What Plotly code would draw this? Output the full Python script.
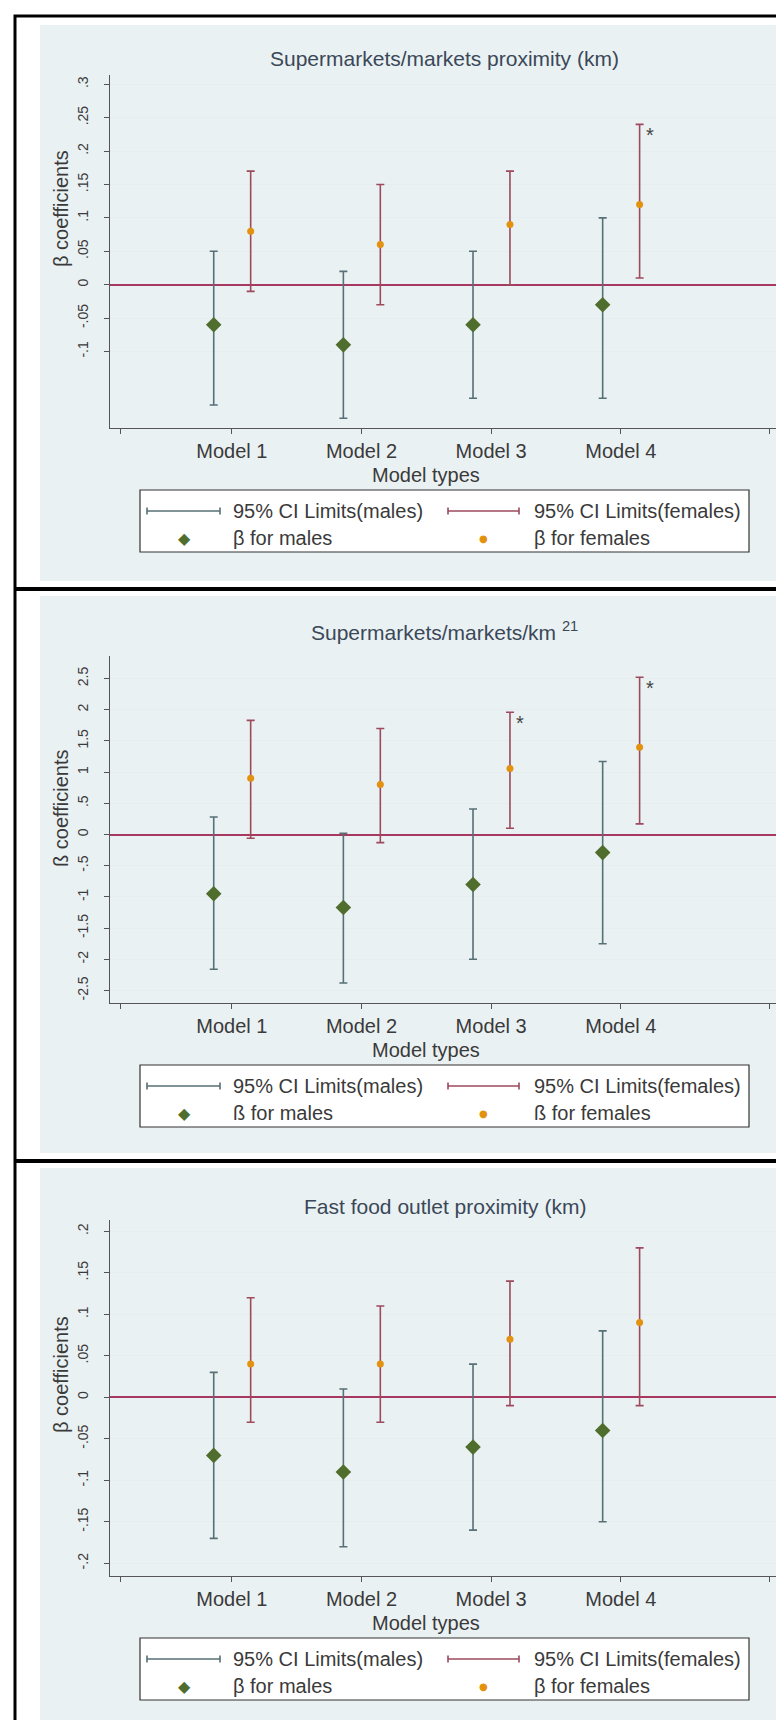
import plotly.graph_objects as go

# ---------------- data ----------------
models = ["Model 1", "Model 2", "Model 3", "Model 4"]

p1_title = "Supermarkets/markets proximity (km)"
p1_male_beta = [-0.06, -0.09, -0.06, -0.03]
p1_male_lo = [-0.18, -0.20, -0.17, -0.17]
p1_male_hi = [0.05, 0.02, 0.05, 0.10]
p1_fem_beta = [0.08, 0.06, 0.09, 0.12]
p1_fem_lo = [-0.01, -0.03, 0.00, 0.01]
p1_fem_hi = [0.17, 0.15, 0.17, 0.24]
p1_fem_sig = [False, False, False, True]
p1_tickvals = [-0.1, -0.05, 0, 0.05, 0.1, 0.15, 0.2, 0.25, 0.3]
p1_ticktext = ["-.1", "-.05", "0", ".05", ".1", ".15", ".2", ".25", ".3"]

p2_title = "Supermarkets/markets/km <sup>21</sup>"
p2_male_beta = [-0.95, -1.17, -0.80, -0.29]
p2_male_lo = [-2.16, -2.38, -2.00, -1.75]
p2_male_hi = [0.28, 0.02, 0.41, 1.17]
p2_fem_beta = [0.90, 0.80, 1.06, 1.40]
p2_fem_lo = [-0.06, -0.13, 0.10, 0.17]
p2_fem_hi = [1.83, 1.70, 1.96, 2.52]
p2_fem_sig = [False, False, True, True]
p2_tickvals = [-2.5, -2, -1.5, -1, -0.5, 0, 0.5, 1, 1.5, 2, 2.5]
p2_ticktext = ["-2.5", "-2", "-1.5", "-1", "-.5", "0", ".5", "1", "1.5", "2", "2.5"]

p3_title = "Fast food outlet proximity (km)"
p3_male_beta = [-0.07, -0.09, -0.06, -0.04]
p3_male_lo = [-0.17, -0.18, -0.16, -0.15]
p3_male_hi = [0.03, 0.01, 0.04, 0.08]
p3_fem_beta = [0.04, 0.04, 0.07, 0.09]
p3_fem_lo = [-0.03, -0.03, -0.01, -0.01]
p3_fem_hi = [0.12, 0.11, 0.14, 0.18]
p3_fem_sig = [False, False, False, False]
p3_tickvals = [-0.2, -0.15, -0.1, -0.05, 0, 0.05, 0.1, 0.15, 0.2]
p3_ticktext = ["-.2", "-.15", "-.1", "-.05", "0", ".05", ".1", ".15", ".2"]

legend_ci_m = "95% CI Limits(males)"
legend_ci_f = "95% CI Limits(females)"
x_title = "Model types"

# ---------------- styling / layout ----------------
W, H = 784, 1720
FONT = "Liberation Sans, Arial, sans-serif"
C_GRAPH = "#EAF1F3"
C_GRID = "#E6EDEF"
C_AXIS = "#555555"
C_MCI = "#567076"
C_FCI = "#9C4A5C"
C_MPT = "#4F6E2D"
C_FPT = "#E3920F"
C_ZERO = "#A8385F"
C_TITLE = "#3A4858"
C_TEXT = "#3A3A3A"

def px(x):
    return x / W

def py(y):
    return 1 - y / H

panels = [
    dict(title=p1_title, mb=p1_male_beta, ml=p1_male_lo, mh=p1_male_hi,
         fb=p1_fem_beta, fl=p1_fem_lo, fh=p1_fem_hi, sig=p1_fem_sig,
         tv=p1_tickvals, tt=p1_ticktext, rng=[-0.2145, 0.3139],
         top=67, bot=420, gtop=17, gbot=573, ty=50, aty=201, beta="β"),
    dict(title=p2_title, mb=p2_male_beta, ml=p2_male_lo, mh=p2_male_hi,
         fb=p2_fem_beta, fl=p2_fem_lo, fh=p2_fem_hi, sig=p2_fem_sig,
         tv=p2_tickvals, tt=p2_ticktext, rng=[-2.70, 2.861],
         top=648, bot=995, gtop=588, gbot=1145, ty=623, aty=801, beta="ß"),
    dict(title=p3_title, mb=p3_male_beta, ml=p3_male_lo, mh=p3_male_hi,
         fb=p3_fem_beta, fl=p3_fem_lo, fh=p3_fem_hi, sig=p3_fem_sig,
         tv=p3_tickvals, tt=p3_ticktext, rng=[-0.2153, 0.2136],
         top=1212, bot=1568, gtop=1160, gbot=1717, ty=1198, aty=1367, beta="β"),
]

PL, PR = 102, 771
M_OFF, F_OFF = -0.14, 0.145
XRANGE = [0.06, 5.22]
XEND_TICKS = [0.14, 5.15]

fig = go.Figure()
shapes = []
annotations = []

# white page, black frame, gray graph regions
for p in panels:
    shapes.append(dict(type="rect", xref="paper", yref="paper", layer="below",
                       x0=px(32), x1=px(777), y0=py(p["gbot"]), y1=py(p["gtop"]),
                       fillcolor=C_GRAPH, line=dict(width=0)))
shapes.append(dict(type="rect", xref="paper", yref="paper",
                   x0=px(7), x1=px(781), y0=py(1718), y1=py(8),
                   line=dict(color="black", width=3), fillcolor="rgba(0,0,0,0)"))
for ysep in (581, 1153):
    shapes.append(dict(type="line", xref="paper", yref="paper",
                       x0=px(7), x1=px(781), y0=py(ysep), y1=py(ysep),
                       line=dict(color="black", width=4)))

for k, p in enumerate(panels):
    sfx = "" if k == 0 else str(k + 1)
    xa, ya = "x" + sfx, "y" + sfx
    xm = [i + 1 + M_OFF for i in range(len(models))]
    xf = [i + 1 + F_OFF for i in range(len(models))]

    fig.add_trace(go.Scatter(
        x=xm, y=p["mb"], mode="markers", xaxis=xa, yaxis=ya, showlegend=False,
        marker=dict(symbol="diamond", size=12, color=C_MPT),
        error_y=dict(type="data", symmetric=False,
                     array=[h - b for h, b in zip(p["mh"], p["mb"])],
                     arrayminus=[b - l for b, l in zip(p["mb"], p["ml"])],
                     color=C_MCI, thickness=1.6, width=4)))
    fig.add_trace(go.Scatter(
        x=xf, y=p["fb"], mode="markers", xaxis=xa, yaxis=ya, showlegend=False,
        marker=dict(symbol="circle", size=7, color=C_FPT),
        error_y=dict(type="data", symmetric=False,
                     array=[h - b for h, b in zip(p["fh"], p["fb"])],
                     arrayminus=[b - l for b, l in zip(p["fb"], p["fl"])],
                     color=C_FCI, thickness=1.6, width=4)))

    # significance asterisks
    for i, s in enumerate(p["sig"]):
        if s:
            annotations.append(dict(x=xf[i], y=p["fh"][i], xref=xa, yref=ya,
                                    text="*", showarrow=False, xshift=10, yshift=-11,
                                    font=dict(family=FONT, size=20, color="#444")))

    xkey = "xaxis" + sfx
    ykey = "yaxis" + sfx
    fig.update_layout({
        xkey: dict(domain=[px(PL), px(PR)], range=XRANGE, anchor=ya,
                   tickmode="array", tickvals=[1, 2, 3, 4], ticktext=models,
                   minor=dict(tickvals=XEND_TICKS, ticks="outside", ticklen=5,
                              tickcolor=C_AXIS, showgrid=False),
                   showgrid=False, zeroline=False, showline=True,
                   linecolor=C_AXIS, linewidth=1.2, ticks="outside", ticklen=5,
                   tickcolor=C_AXIS, ticklabelstandoff=0,
                   tickfont=dict(family=FONT, size=20, color=C_TEXT), fixedrange=True),
        ykey: dict(domain=[py(p["bot"]), py(p["top"])], range=p["rng"], anchor=xa,
                   tickmode="array", tickvals=p["tv"], ticktext=p["tt"],
                   tickangle=-90, showgrid=True, gridcolor=C_GRID, gridwidth=1,
                   zeroline=True, zerolinecolor=C_ZERO, zerolinewidth=1.5,
                   showline=True, linecolor=C_AXIS, linewidth=1.2,
                   ticks="outside", ticklen=5, tickcolor=C_AXIS, ticklabelstandoff=10,
                   tickfont=dict(family=FONT, size=14, color=C_TEXT), fixedrange=True),
    })

    # title
    annotations.append(dict(x=px((PL + PR) / 2), y=py(p["ty"]), xref="paper", yref="paper",
                            text=p["title"], showarrow=False, xanchor="center", yanchor="middle",
                            font=dict(family=FONT, size=21, color=C_TITLE)))
    # y-axis title
    annotations.append(dict(x=px(53), y=py(p["aty"]), xref="paper", yref="paper",
                            text=p["beta"] + " coefficients", showarrow=False, textangle=-90,
                            xanchor="center", yanchor="middle",
                            font=dict(family=FONT, size=20, color=C_TEXT)))
    # x-axis title
    b = p["bot"]
    annotations.append(dict(x=px(418), y=py(b + 47), xref="paper", yref="paper",
                            text=x_title, showarrow=False, xanchor="center", yanchor="middle",
                            font=dict(family=FONT, size=20, color=C_TEXT)))

    # legend box
    lt, lb = b + 62, b + 124
    shapes.append(dict(type="rect", xref="paper", yref="paper",
                       x0=px(132), x1=px(741), y0=py(lb), y1=py(lt),
                       fillcolor="white", line=dict(color="#333333", width=1.2)))
    r1, r2 = b + 83, b + 110
    for (x0, x1, col) in ((139, 212, C_MCI), (440, 511, C_FCI)):
        shapes.append(dict(type="line", xref="paper", yref="paper",
                           x0=px(x0), x1=px(x1), y0=py(r1), y1=py(r1),
                           line=dict(color=col, width=1.6)))
        for xc in (x0, x1):
            shapes.append(dict(type="line", xref="paper", yref="paper",
                               x0=px(xc), x1=px(xc), y0=py(r1 - 3.5), y1=py(r1 + 3.5),
                               line=dict(color=col, width=1.6)))
    for (xt, txt, yy) in ((223, legend_ci_m, r1), (524, legend_ci_f, r1),
                          (223, p["beta"] + " for males", r2),
                          (524, p["beta"] + " for females", r2)):
        annotations.append(dict(x=px(xt), y=py(yy), xref="paper", yref="paper",
                                text=txt, showarrow=False, xanchor="left", yanchor="middle",
                                font=dict(family=FONT, size=20, color=C_TEXT)))
    # legend markers
    annotations.append(dict(x=px(176), y=py(r2), xref="paper", yref="paper",
                            text="◆", showarrow=False,
                            xanchor="center", yanchor="middle",
                            font=dict(family="DejaVu Sans", size=16, color=C_MPT)))
    annotations.append(dict(x=px(476), y=py(r2), xref="paper", yref="paper",
                            text="●", showarrow=False,
                            xanchor="center", yanchor="middle",
                            font=dict(family="DejaVu Sans", size=10, color=C_FPT)))

fig.update_layout(
    width=W, height=H, autosize=False,
    margin=dict(l=0, r=0, t=0, b=0),
    paper_bgcolor="white", plot_bgcolor="white",
    showlegend=False, shapes=shapes, annotations=annotations,
    font=dict(family=FONT),
)

fig.write_html("out.html")
